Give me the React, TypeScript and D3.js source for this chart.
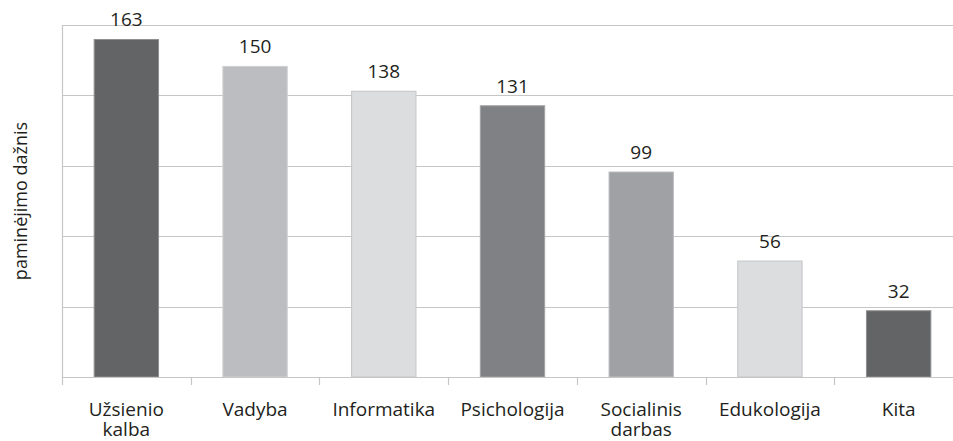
import React, { useEffect, useRef } from "react";
import * as d3 from "d3";

const categories = [
  ["Užsienio", "kalba"],
  ["Vadyba"],
  ["Informatika"],
  ["Psichologija"],
  ["Socialinis", "darbas"],
  ["Edukologija"],
  ["Kita"],
];
const values = [163, 150, 138, 131, 99, 56, 32];
const fills = ["#636466", "#bcbdc0", "#dcdddf", "#808184", "#a0a1a4", "#dcdddf", "#636466"];
const strokes = ["#8e8f91", "#cfd0d2", "#c4c5c7", "#a2a3a5", "#bdbec0", "#c4c5c7", "#8e8f91"];
const yTicks = [0, 34, 68, 102, 136, 170];
const yLabel = "paminėjimo dažnis";

export default function App() {
  const ref = useRef<SVGSVGElement>(null);

  useEffect(() => {
    document.body.style.margin = "0";
    const svg = d3.select(ref.current);
    svg.selectAll("*").remove();
    const font = "'Open Sans', sans-serif";
    const fs = 19;
    const left = 62, top = 25, bottom = 377, right = 963;

    const x = d3
      .scaleBand<number>()
      .domain(values.map((_, i) => i))
      .range([left, right])
      .padding(0);
    const y = d3.scaleLinear().domain([0, 170]).range([bottom, top]);

    // gridlines
    svg
      .append("g")
      .selectAll("line")
      .data(yTicks.slice(1))
      .join("line")
      .attr("x1", left)
      .attr("x2", right)
      .attr("y1", (d) => Math.round(y(d)) + 0.5)
      .attr("y2", (d) => Math.round(y(d)) + 0.5)
      .attr("stroke", "#c6c6c6")
      .attr("stroke-width", 1.2);

    // left axis line
    svg
      .append("line")
      .attr("x1", left + 0.5)
      .attr("x2", left + 0.5)
      .attr("y1", y(170))
      .attr("y2", bottom)
      .attr("stroke", "#c6c6c6")
      .attr("stroke-width", 1.2);

    // bars
    const bw = x.bandwidth() * 0.5;
    svg
      .append("g")
      .selectAll("rect")
      .data(values)
      .join("rect")
      .attr("x", (_, i) => x(i)! + (x.bandwidth() - bw) / 2)
      .attr("y", (d) => y(d))
      .attr("width", bw)
      .attr("height", (d) => bottom - y(d))
      .attr("fill", (_, i) => fills[i])
      .attr("stroke", (_, i) => strokes[i])
      .attr("stroke-width", 1);

    // bottom axis line and ticks
    svg
      .append("line")
      .attr("x1", left)
      .attr("x2", right)
      .attr("y1", bottom + 0.5)
      .attr("y2", bottom + 0.5)
      .attr("stroke", "#c6c6c6")
      .attr("stroke-width", 1.2);
    svg
      .append("g")
      .selectAll("line")
      .data(d3.range(values.length + 1))
      .join("line")
      .attr("x1", (i) => Math.round(left + i * x.bandwidth()) + 0.5)
      .attr("x2", (i) => Math.round(left + i * x.bandwidth()) + 0.5)
      .attr("y1", bottom)
      .attr("y2", bottom + 8)
      .attr("stroke", "#c6c6c6")
      .attr("stroke-width", 1.2);

    // value labels
    svg
      .append("g")
      .selectAll("text")
      .data(values)
      .join("text")
      .attr("x", (_, i) => x(i)! + x.bandwidth() / 2)
      .attr("y", (d) => y(d) - 13)
      .attr("text-anchor", "middle")
      .attr("font-family", font)
      .attr("font-size", fs)
      .attr("fill", "#231f20")
      .text((d) => d);

    // category labels
    const cat = svg
      .append("g")
      .selectAll("text")
      .data(categories)
      .join("text")
      .attr("x", (_, i) => x(i)! + x.bandwidth() / 2)
      .attr("y", 416)
      .attr("text-anchor", "middle")
      .attr("font-family", font)
      .attr("font-size", fs)
      .attr("fill", "#231f20");
    cat
      .selectAll("tspan")
      .data((d) => d)
      .join("tspan")
      .attr("x", function () {
        return (this.parentNode as SVGTextElement).getAttribute("x");
      })
      .attr("dy", (_, j) => (j === 0 ? 0 : 19.5))
      .text((d) => d);

    // y label
    svg
      .append("text")
      .attr("transform", `translate(27,${(top + bottom) / 2}) rotate(-90)`)
      .attr("text-anchor", "middle")
      .attr("font-family", font)
      .attr("font-size", fs - 1)
      .attr("fill", "#231f20")
      .text(yLabel);
  }, []);

  return (
    <div style={{ position: "absolute", left: 0, top: 0 }}>
      <svg ref={ref} width={953} height={441} style={{ display: "block", background: "#fff" }} />
    </div>
  );
}
